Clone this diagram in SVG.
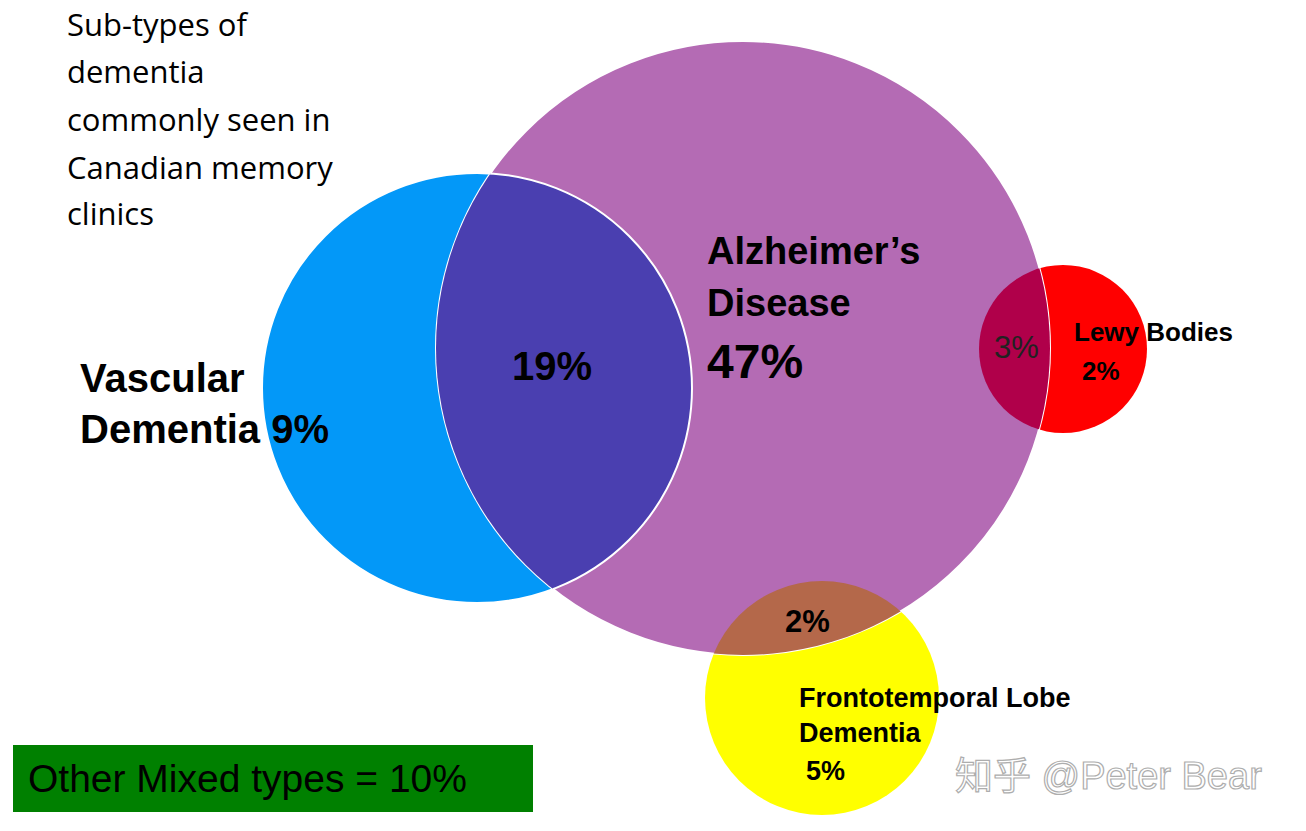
<svg xmlns="http://www.w3.org/2000/svg" width="1306" height="831" viewBox="0 0 1306 831">
<style>
.b{font-family:"Liberation Sans",Arial,sans-serif;font-weight:bold;fill:#000}
.n{font-family:"Open Sans","Noto Sans",sans-serif;fill:#000}
</style>
<defs>
<clipPath id="cp"><circle cx="743" cy="348" r="307"/></clipPath>
</defs>
<rect width="1306" height="831" fill="#fff"/>
<g id="vascular"><circle cx="477" cy="388" r="215" fill="#0398f8" stroke="#fff" stroke-width="2"/></g>
<g id="frontotemporal"><circle cx="822" cy="698" r="117" fill="#ffff00"/></g>
<g id="lewy"><circle cx="1063" cy="349" r="84" fill="#ff0000"/></g>
<g id="alzheimers"><circle cx="743" cy="348" r="307" fill="#b46bb4" stroke="#fff" stroke-width="2"/></g>
<g id="overlaps" clip-path="url(#cp)">
<circle cx="477" cy="388" r="215" fill="#4a3fb0" stroke="#fff" stroke-width="2"/>
<circle cx="1063" cy="349" r="84" fill="#b0004a"/>
<circle cx="822" cy="698" r="117" fill="#b4684a"/>
</g>
<g id="connectors"/>
<text class="n" x="67" y="36" font-size="31">Sub-types of</text>
<text class="n" x="67" y="83" font-size="31">dementia</text>
<text class="n" x="67" y="131" font-size="31">commonly seen in</text>
<text class="n" x="67" y="179" font-size="31">Canadian memory</text>
<text class="n" x="67" y="225" font-size="31">clinics</text>
<text class="b" x="80" y="392" font-size="40">Vascular</text>
<text class="b" x="80" y="443" font-size="40">Dementia  9%</text>
<text class="b" x="512" y="380" font-size="40">19%</text>
<text class="b" x="707" y="264" font-size="38">Alzheimer’s</text>
<text class="b" x="707" y="316" font-size="38">Disease</text>
<text class="b" x="707" y="378" font-size="48">47%</text>
<text x="994" y="358" font-size="31" font-family="Liberation Sans,Arial,sans-serif" fill="#222">3%</text>
<text class="b" x="1074" y="341" font-size="26">Lewy Bodies</text>
<text class="b" x="1082" y="380" font-size="26">2%</text>
<text class="b" x="785" y="632" font-size="31">2%</text>
<text class="b" x="799" y="707" font-size="27">Frontotemporal Lobe</text>
<text class="b" x="799" y="742" font-size="27">Dementia</text>
<text class="b" x="806" y="780" font-size="27">5%</text>
<rect x="13" y="745" width="520" height="67" fill="#008000"/>
<text x="28" y="792" font-size="39" font-family="Liberation Sans,Arial,sans-serif" fill="#000">Other Mixed types = 10%</text>
<text x="955" y="789" font-size="38" font-family="Liberation Sans,'Noto Sans CJK SC',sans-serif" fill="#fff" stroke="#999" stroke-width="1.2" opacity="0.8">知乎 @Peter Bear</text>
</svg>
